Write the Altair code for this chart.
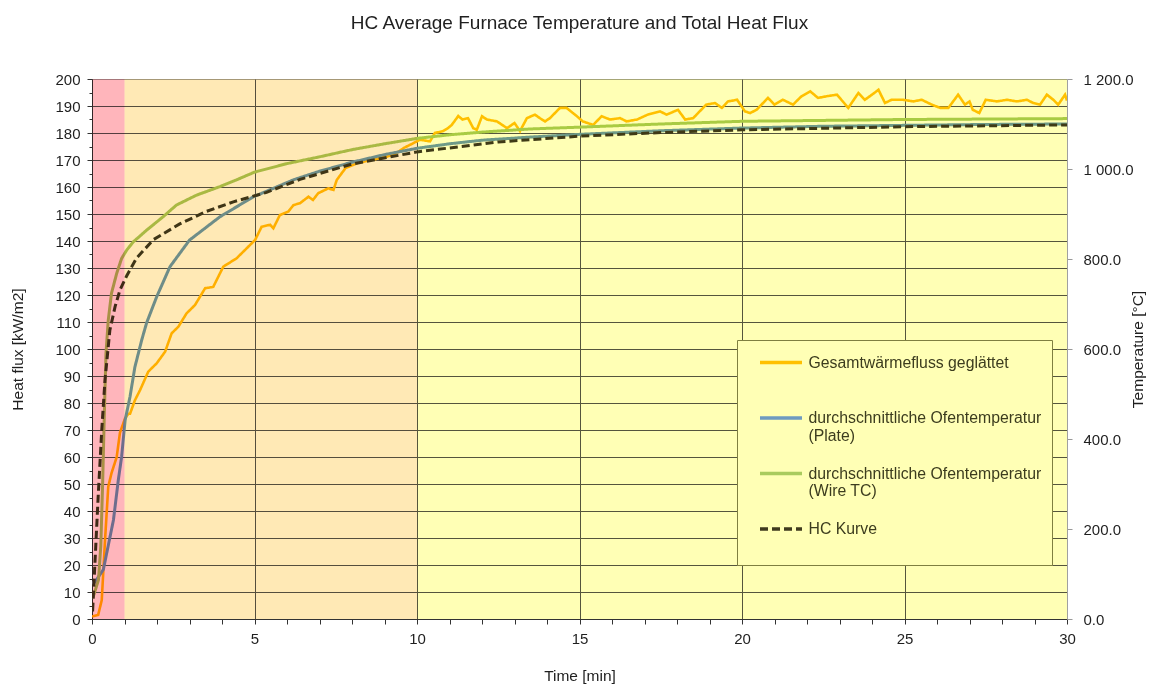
import altair as alt
import pandas as pd

# ---------------- data ----------------
S_HF = "Gesamtwärmefluss geglättet|"
S_PL = "durchschnittliche Ofentemperatur|(Plate)"
S_WI = "durchschnittliche Ofentemperatur|(Wire TC)"
S_HC = "HC Kurve|"
series_names = [S_HF, S_PL, S_WI, S_HC]
series_colors = ["#FFC000", "#6E9AC0", "#A9CB5E", "#3F3A1E"]
series_dashes = [[1, 0], [1, 0], [1, 0], [8, 4]]

# heat flux [kW/m2] vs time [min]
hf_t = [0, 0.19, 0.3, 0.4, 0.5, 0.6, 0.76, 0.86, 1.02, 1.12,
        1.17, 1.32, 1.48, 1.73, 1.99, 2.25, 2.45, 2.66, 2.91, 3.17,
        3.48, 3.73, 4.04, 4.45, 4.76, 5.02, 5.22, 5.48, 5.58, 5.78,
        6.04, 6.2, 6.4, 6.66, 6.8, 6.96, 7.27, 7.43, 7.53, 7.8,
        8.2, 8.6, 9.0, 9.3, 9.6, 9.85, 10.09, 10.4, 10.55, 10.8,
        10.95, 11.07, 11.27, 11.4, 11.57, 11.73, 11.84, 12.0, 12.15, 12.46,
        12.77, 13.0, 13.17, 13.38, 13.63, 13.78, 13.94, 14.09, 14.4, 14.6,
        14.92, 15.1, 15.42, 15.68, 15.94, 16.25, 16.45, 16.77, 17.1, 17.48,
        17.68, 18.03, 18.25, 18.5, 18.6, 18.9, 19.17, 19.38, 19.57, 19.85,
        20.09, 20.25, 20.45, 20.6, 20.8, 21.0, 21.26, 21.57, 21.83, 22.1,
        22.34, 22.6, 22.92, 23.1, 23.27, 23.58, 23.78, 24.0, 24.2, 24.4,
        24.6, 24.96, 25.27, 25.53, 25.84, 26.1, 26.35, 26.65, 26.86, 27.0,
        27.1, 27.3, 27.5, 27.85, 28.15, 28.46, 28.77, 28.96, 29.17, 29.38,
        29.58, 29.73, 29.94, 30.0]
hf_v = [0.9, 1.5, 7, 29, 49, 54, 60, 69, 74.4, 76,
        76, 81, 84.8, 91.6, 94.7, 99, 105.8, 108.3, 113.2, 116.3,
        122.5, 123, 130.5, 133.6, 137.3, 140.4, 145.3, 146, 144.7, 149.6,
        150.9, 153.3, 154, 156.4, 155.2, 157.7, 159.5, 158.9, 162.6, 167,
        169, 170, 171, 172, 174.5, 176, 177.5, 176.9, 180, 180.7,
        181.8, 183, 186.3, 185, 185.5, 181.8, 181.2, 186.2, 185, 184.3,
        181.8, 183.7, 180.7, 185.5, 186.8, 185.5, 184.3, 185.5, 189.3, 189.3,
        186.2, 184.3, 183, 186.2, 185, 185.5, 184.3, 185, 186.8, 188,
        186.8, 188.6, 185, 185.5, 186.8, 190.5, 191.1, 189.3, 191.7, 192.3,
        188, 187.4, 188.6, 190.5, 193, 190.5, 192.3, 190.5, 193.6, 195.4,
        193, 193.6, 194.2, 191.7, 189.3, 194.8, 192.3, 194.2, 196, 191.1,
        192.3, 192.3, 191.7, 192.3, 190.5, 189.3, 189.3, 194.2, 190.5, 191.7,
        188.6, 187.4, 192.3, 191.7, 192.3, 191.7, 192.3, 191.1, 190.5, 194.2,
        192.3, 190.5, 194.2, 192]

# furnace temperature, plate [°C]
plate_t = [0, 0.09, 0.35, 0.66, 0.81, 0.91, 1.02, 1.17, 1.32, 1.53, 1.68, 1.99,
           2.4, 3.0, 3.94, 4.96, 6.2, 7.0, 8.0, 9.0, 10.0, 11.0, 12.0, 13.5,
           15.0, 17.5, 20.0, 22.5, 25.0, 27.5, 30.0]
plate_T = [80, 82, 110, 220, 309, 360, 442, 494, 560, 620, 658, 716,
           783, 842, 894, 938, 976, 995, 1015, 1032, 1046, 1056, 1064, 1071,
           1077, 1085, 1091, 1095, 1097, 1099, 1100]

# furnace temperature, wire TC [°C]
wire_t = [0, 0.04, 0.2, 0.27, 0.33, 0.38, 0.43, 0.5, 0.6, 0.76, 0.91, 1.07,
          1.27, 1.68, 2.19, 2.6, 3.22, 3.94, 4.45, 5.0, 6.0, 7.0, 8.0, 9.0,
          10.0, 11.0, 12.0, 13.5, 15.0, 17.5, 20.0, 22.5, 25.0, 27.5, 30.0]
wire_T = [48, 50, 87, 161, 309, 457, 590, 664, 724, 768, 801, 820,
          838, 864, 894, 920, 942, 961, 976, 993, 1012, 1027, 1043, 1056,
          1068, 1076, 1082, 1089, 1093, 1100, 1106, 1108, 1110, 1111, 1112]

# HC curve [°C]
hc_t = [0, 0.02, 0.09, 0.19, 0.3, 0.4, 0.55, 0.71, 0.86, 1.07, 1.37, 1.89,
        2.7, 3.53, 4.35, 5.37, 6.4, 8.0, 10.0, 12.5, 15.0, 17.5, 20.0, 25.0, 30.0]
hc_T = [20, 20, 124, 272, 420, 531, 642, 694, 731, 763, 802, 843,
        878, 906, 927, 948, 977, 1011, 1038, 1060, 1073, 1081, 1087, 1094, 1098]

# background phases [min]
band_start = [0, 1, 10]
band_end = [1, 10, 30]
band_color = ["#FFB5BB", "#FFE9B5", "#FFFFB5"]

x_ticks = list(range(0, 31))
hf_ticks = list(range(0, 201, 5))
temp_ticks = list(range(0, 1201, 200))

# ---------------- frames ----------------
hf_df = pd.DataFrame({"t": hf_t, "v": hf_v, "series": S_HF})
temp_df = pd.concat([
    pd.DataFrame({"t": plate_t, "T": plate_T, "series": S_PL}),
    pd.DataFrame({"t": wire_t, "T": wire_T, "series": S_WI}),
    pd.DataFrame({"t": hc_t, "T": hc_T, "series": S_HC}),
], ignore_index=True)
band_df = pd.DataFrame({"start": band_start, "end": band_end, "color": band_color})

FONT = "Liberation Sans"
TXT = "#1F1F1F"

color_scale = alt.Scale(domain=series_names, range=series_colors)
dash_scale = alt.Scale(domain=series_names, range=series_dashes)

legend = alt.Legend(
    title=None, orient="none", legendX=645, legendY=261,
    fillColor="#FFFFB5", strokeColor="#7F7F40", padding=10,
    symbolType="M-2,0H2", symbolSize=441, symbolStrokeWidth=3.5,
    symbolOffset=21.5,
    labelFontSize=15.8, labelFont=FONT, labelColor="#3C3C1E",
    labelOffset=15, rowPadding=16.5, labelLimit=400,
    labelExpr="split(datum.label, '|')",
)

x_axis = alt.Axis(
    values=x_ticks, title="Time [min]",
    labelExpr="datum.value % 5 === 0 ? datum.label : ''",
    labelOverlap=False, labelFlush=False,
    grid=True, gridColor="#555555", gridWidth=1,
    gridOpacity={"condition": {"test": "datum.value % 5 === 0 && datum.value > 0 && datum.value < 30", "value": 1}, "value": 0},
    tickSize=5, tickColor="#333333", domainColor="#333333",
    labelFont=FONT, labelFontSize=15, labelColor=TXT, labelPadding=7,
    titleFont=FONT, titleFontSize=15.5, titleFontWeight="normal", titleColor=TXT, titlePadding=22,
)

left_axis = alt.Axis(
    values=hf_ticks, orient="left", title="Heat flux [kW/m2]",
    labelExpr="datum.value % 10 === 0 ? datum.label : ''",
    labelOverlap=False,
    grid=True, gridColor="#555555", gridWidth=1,
    gridOpacity={"condition": {"test": "datum.value % 10 === 0 && datum.value > 0 && datum.value < 200", "value": 1}, "value": 0},
    tickSize={"condition": {"test": "datum.value % 10 === 0", "value": 5}, "value": 3},
    tickColor="#333333", domainColor="#333333",
    labelFont=FONT, labelFontSize=15, labelColor=TXT, labelPadding=7,
    titleFont=FONT, titleFontSize=15.5, titleFontWeight="normal", titleColor=TXT, titlePadding=29,
)

right_axis = alt.Axis(
    values=temp_ticks, orient="right", title="Temperature [°C]",
    labelExpr="replace(format(datum.value, ',.1f'), ',', ' ')",
    grid=False, tickSize=5, tickColor="#999999", domainColor="#A0A0A0",
    labelFont=FONT, labelFontSize=15, labelColor=TXT, labelPadding=11,
    titleFont=FONT, titleFontSize=15.5, titleFontWeight="normal", titleColor=TXT,
    titleAngle=270, titleBaseline="top", titlePadding=-3,
)

x_scale = alt.Scale(domain=[0, 30], nice=False)

temp_layer = alt.Chart(temp_df).mark_line(strokeWidth=3, clip=True).encode(
    x=alt.X("t:Q", scale=x_scale, axis=x_axis),
    y=alt.Y("T:Q", scale=alt.Scale(domain=[0, 1200], nice=False), axis=right_axis),
    color=alt.Color("series:N", scale=color_scale, legend=legend),
    strokeDash=alt.StrokeDash("series:N", scale=dash_scale, legend=legend),
)

hf_layer = alt.Chart(hf_df).mark_line(strokeWidth=2.6, clip=True).encode(
    x=alt.X("t:Q", scale=x_scale, axis=x_axis),
    y=alt.Y("v:Q", scale=alt.Scale(domain=[0, 200], nice=False), axis=left_axis),
    color=alt.Color("series:N", scale=color_scale, legend=legend),
    strokeDash=alt.StrokeDash("series:N", scale=dash_scale, legend=legend),
)

bands = alt.Chart(band_df).mark_rect(blend="multiply").encode(
    x=alt.X("start:Q", scale=x_scale, axis=x_axis),
    x2="end:Q",
    fill=alt.Fill("color:N", scale=None),
)

chart = alt.layer(hf_layer, temp_layer, bands).resolve_scale(
    y="independent"
).properties(
    width=975, height=540,
    title=alt.TitleParams(
        "HC Average Furnace Temperature and Total Heat Flux",
        font=FONT, fontSize=19, fontWeight="normal", color=TXT, anchor="middle", offset=39,
    ),
    padding={"left": 92, "top": 79, "right": 88, "bottom": 67},
    autosize=alt.AutoSizeParams(type="none"),
    background="white",
).configure_view(stroke="#A6A6A6", strokeWidth=1)

chart.save("out.html", embed_options={"renderer": "svg", "actions": False})
